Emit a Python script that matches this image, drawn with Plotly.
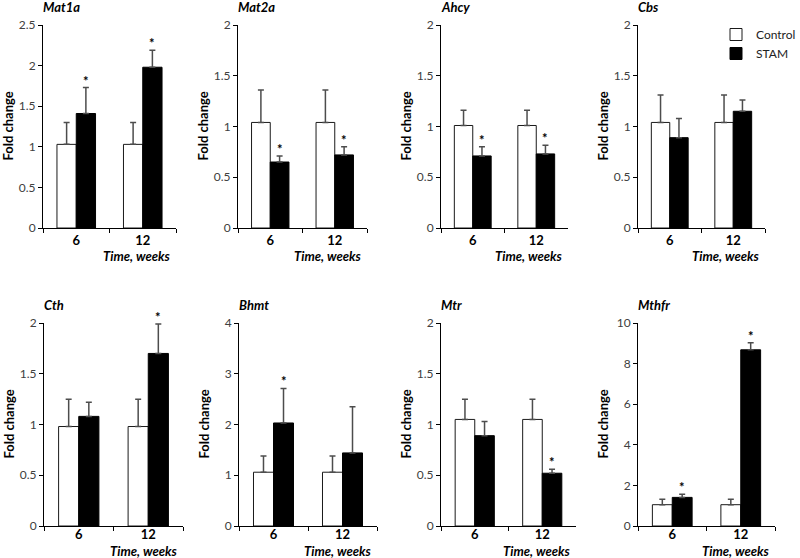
import plotly.graph_objects as go

# ---- data ----
genes = ["Mat1a", "Mat2a", "Ahcy", "Cbs", "Cth", "Bhmt", "Mtr", "Mthfr"]
weeks = ["6", "12"]

control_mean = [[1.03, 1.03], [1.04, 1.04], [1.01, 1.01], [1.04, 1.04],
                [0.98, 0.98], [1.06, 1.06], [1.05, 1.05], [1.05, 1.05]]
control_err = [[0.27, 0.27], [0.32, 0.32], [0.15, 0.15], [0.27, 0.27],
               [0.27, 0.27], [0.32, 0.32], [0.20, 0.20], [0.27, 0.27]]
stam_mean = [[1.41, 1.98], [0.65, 0.72], [0.71, 0.73], [0.89, 1.15],
             [1.08, 1.70], [2.03, 1.44], [0.89, 0.52], [1.41, 8.68]]
stam_err = [[0.32, 0.21], [0.06, 0.08], [0.09, 0.085], [0.19, 0.11],
            [0.14, 0.29], [0.68, 0.91], [0.14, 0.04], [0.15, 0.35]]
significant = [[True, True], [True, True], [True, True], [False, False],
               [False, True], [True, False], [False, True], [True, True]]
y_max = [2.5, 2, 2, 2, 2, 4, 2, 10]
y_step = [0.5, 0.5, 0.5, 0.5, 0.5, 1, 0.5, 2]

# ---- layout geometry (pixels of an 800x558 canvas) ----
W, H = 800, 558
x_px = [(43, 176), (238, 367), (441, 568), (638, 765),
        (44, 183), (239, 377), (441, 576), (638, 775)]
row_px = [(25, 228), (323, 526)]
xtitle_shift = [-28, -25]
xlabel_standoff = [0, -4]

FONT = "Lato, 'Open Sans', sans-serif"
BARGAP = 0.42

fig = go.Figure()
annotations = []

for k, gene in enumerate(genes):
    sfx = "" if k == 0 else str(k + 1)
    xa, ya = "x" + sfx, "y" + sfx
    fig.add_trace(go.Bar(
        x=weeks, y=control_mean[k], name="Control",
        marker=dict(color="white", line=dict(color="#1a1a1a", width=1)),
        error_y=dict(type="data", symmetric=False, array=control_err[k],
                     arrayminus=[0, 0], color="#4d4d4d", thickness=1.5, width=3),
        showlegend=(k == 0), legendgroup="c", xaxis=xa, yaxis=ya))
    fig.add_trace(go.Bar(
        x=weeks, y=stam_mean[k], name="STAM",
        marker=dict(color="black", line=dict(color="black", width=1)),
        error_y=dict(type="data", symmetric=False, array=stam_err[k],
                     arrayminus=[0, 0], color="#4d4d4d", thickness=1.5, width=3),
        showlegend=(k == 0), legendgroup="s", xaxis=xa, yaxis=ya))

    r = 0 if k < 4 else 1
    x0, x1 = x_px[k]
    y0, y1 = row_px[r]
    fig.layout["xaxis" + sfx] = dict(
        domain=[x0 / W, x1 / W], anchor=ya, type="category",
        tickson="boundaries", ticks="outside", ticklen=4, tickcolor="black",
        ticklabelstandoff=xlabel_standoff[r],
        showline=True, linecolor="black", linewidth=1, showgrid=False,
        tickfont=dict(family=FONT, size=13, color="black", weight="bold"),
        fixedrange=True)
    fig.layout["yaxis" + sfx] = dict(
        domain=[1 - y1 / H, 1 - y0 / H], anchor=xa,
        range=[0, y_max[k]], tick0=0, dtick=y_step[k],
        ticks="outside", ticklen=4, tickcolor="black",
        showline=True, linecolor="black", linewidth=1, showgrid=False,
        zeroline=False,
        tickfont=dict(family=FONT, size=12, color="#404040"),
        fixedrange=True)

    # panel title
    annotations.append(dict(
        text="<b><i>%s</i></b>" % gene, xref=xa + " domain", yref=ya + " domain",
        x=0, y=1, xanchor="left", yanchor="middle", xshift=-2, yshift=18,
        showarrow=False, font=dict(family=FONT, size=13, color="black")))
    # y title
    annotations.append(dict(
        text="<b>Fold change</b>", xref=xa + " domain", yref=ya + " domain",
        x=0, y=0.5, xanchor="center", yanchor="middle", xshift=-36,
        textangle=-90, showarrow=False,
        font=dict(family=FONT, size=13, color="black")))
    # x title
    annotations.append(dict(
        text="<b><i>Time, weeks</i></b>", xref=xa + " domain", yref=ya + " domain",
        x=1, y=0, xanchor="right", yanchor="middle", xshift=-3,
        yshift=xtitle_shift[r],
        showarrow=False, font=dict(family=FONT, size=13, color="black")))
    # significance stars
    for i in range(2):
        if significant[k][i]:
            annotations.append(dict(
                text="<b>*</b>", xref=xa, yref=ya,
                x=i + (1 - BARGAP) / 4, y=stam_mean[k][i] + stam_err[k][i],
                xanchor="center", yanchor="middle", yshift=7,
                showarrow=False, font=dict(family=FONT, size=13, color="black")))

fig.update_layout(
    width=W, height=H, margin=dict(l=0, r=0, t=0, b=0, autoexpand=False),
    paper_bgcolor="white", plot_bgcolor="white",
    barmode="group", bargap=BARGAP, bargroupgap=0,
    font=dict(family=FONT, size=12, color="black"),
    annotations=annotations,
    legend=dict(x=716 / W, y=1 - 20 / H, xanchor="left", yanchor="top",
                font=dict(family=FONT, size=12, color="#222"),
                bgcolor="rgba(0,0,0,0)", itemwidth=30, tracegroupgap=0),
)

fig.write_html("out.html", config={"displayModeBar": False},
               post_script="document.body.style.margin='0';")
